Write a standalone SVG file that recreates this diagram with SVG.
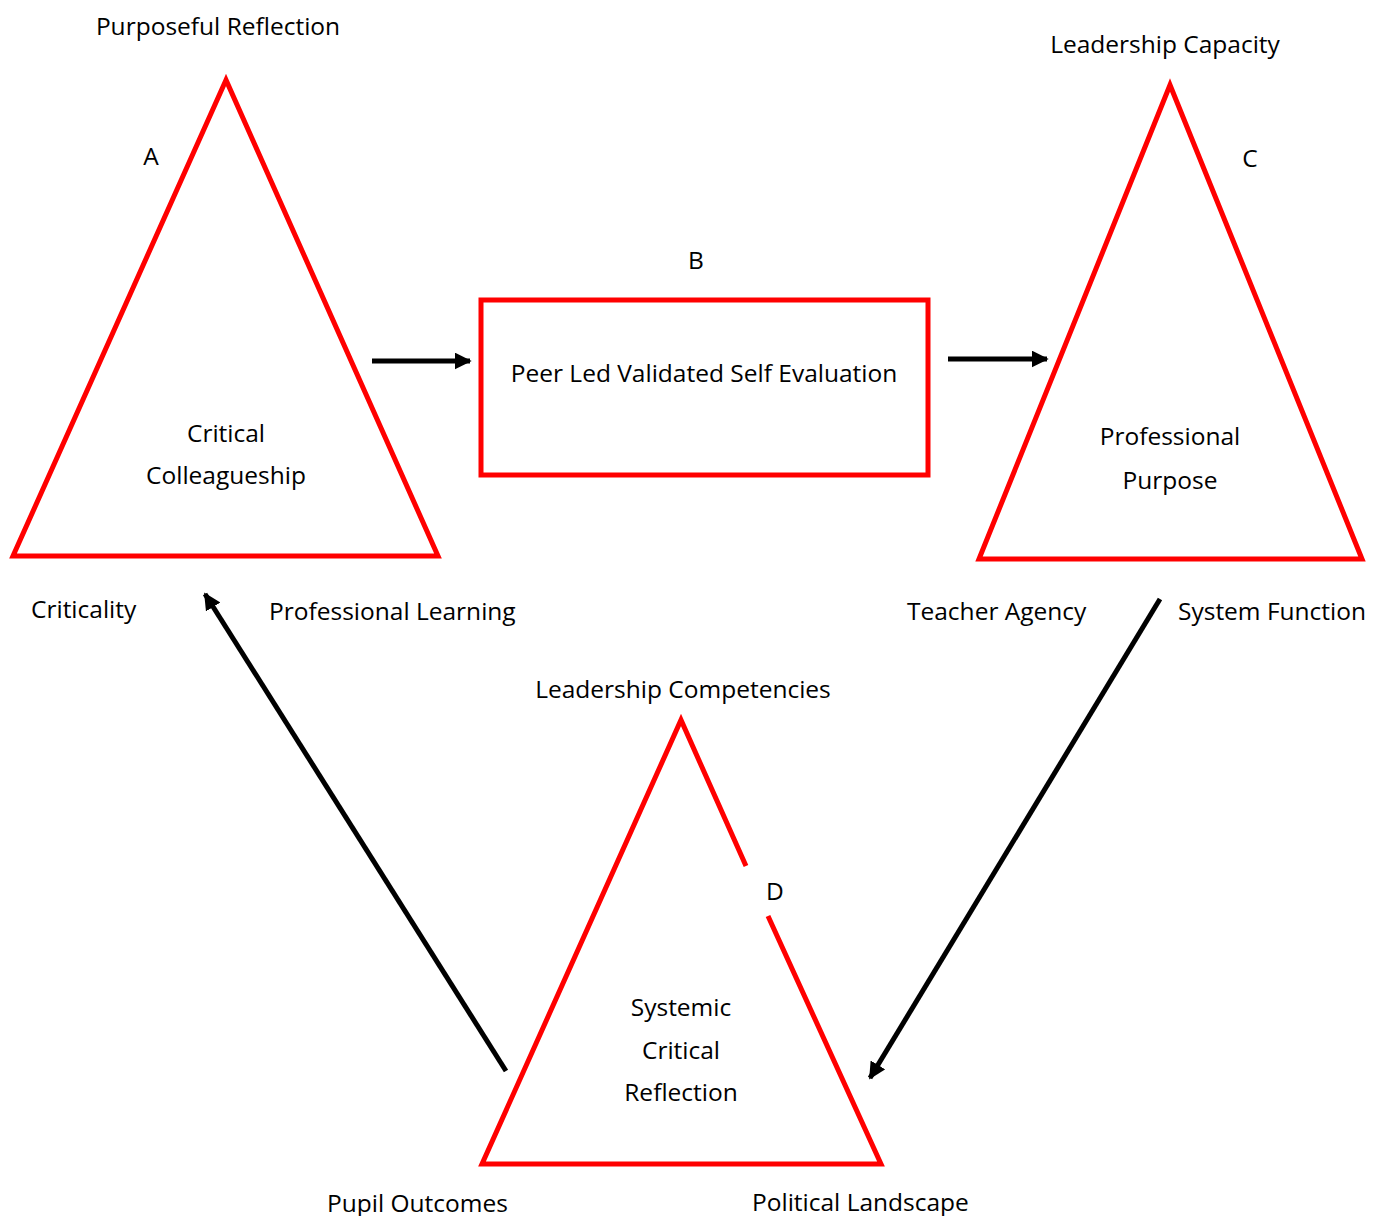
<svg xmlns="http://www.w3.org/2000/svg" width="1379" height="1216" viewBox="0 0 1379 1216">
<style>
.shape{fill:none;stroke:#ff0000;stroke-width:5;stroke-linejoin:miter}
.conn{stroke:#000;stroke-width:5;fill:none}
text{font-family:"Open Sans","Noto Sans",sans-serif;font-size:24.5px;fill:#000}
.c{text-anchor:middle}
</style>
<defs>
<marker id="ah" viewBox="0 0 10 10" refX="9" refY="5" markerWidth="3.4" markerHeight="3.4" markerUnits="strokeWidth" orient="auto">
<path d="M0,0 L10,5 L0,10 z" fill="#000"/>
</marker>
</defs>
<rect width="1379" height="1216" fill="#fff"/>
<g id="nodeA">
<polygon class="shape" points="226,80 13,556 438,556"/>
<text class="c" x="218" y="35">Purposeful Reflection</text>
<text class="c" x="151" y="165">A</text>
<text class="c" x="226" y="442">Critical</text>
<text class="c" x="226" y="484">Colleagueship</text>
<text x="31" y="618">Criticality</text>
<text x="269" y="620">Professional Learning</text>
</g>
<g id="nodeB">
<rect class="shape" x="481" y="300" width="447" height="175"/>
<text class="c" x="696" y="269">B</text>
<text class="c" x="704" y="382">Peer Led Validated Self Evaluation</text>
</g>
<g id="nodeC">
<polygon class="shape" points="1170,85 979,559 1362,559"/>
<text class="c" x="1165" y="53">Leadership Capacity</text>
<text class="c" x="1250" y="167">C</text>
<text class="c" x="1170" y="445">Professional</text>
<text class="c" x="1170" y="489">Purpose</text>
<text x="907" y="620">Teacher Agency</text>
<text x="1178" y="620">System Function</text>
</g>
<g id="nodeD">
<path class="shape" d="M746,866 L681,720 L482,1164 L881,1164 L768,916"/>
<text class="c" x="683" y="698">Leadership Competencies</text>
<text class="c" x="775" y="900">D</text>
<text class="c" x="681" y="1016">Systemic</text>
<text class="c" x="681" y="1059">Critical</text>
<text class="c" x="681" y="1101">Reflection</text>
<text x="327" y="1212">Pupil Outcomes</text>
<text x="752" y="1211">Political Landscape</text>
</g>
<g id="connectors">
<line class="conn" x1="372" y1="361" x2="470" y2="361" marker-end="url(#ah)"/>
<line class="conn" x1="948" y1="359" x2="1047" y2="359" marker-end="url(#ah)"/>
<line class="conn" x1="506" y1="1071" x2="205" y2="594" marker-end="url(#ah)"/>
<line class="conn" x1="1160" y1="599" x2="870" y2="1078" marker-end="url(#ah)"/>
</g>
</svg>
